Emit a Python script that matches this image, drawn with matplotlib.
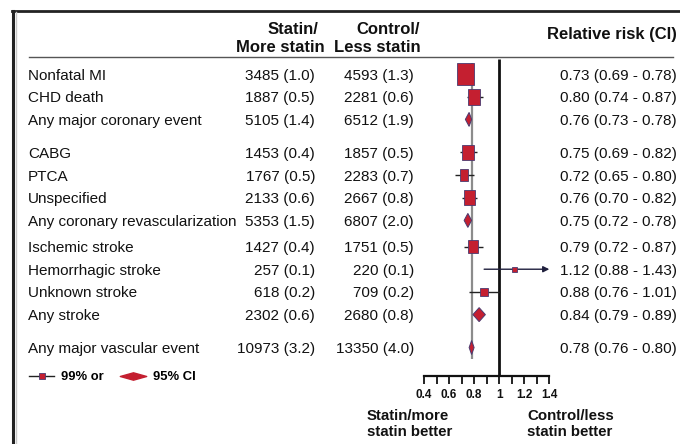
import matplotlib
matplotlib.use('Agg')
import matplotlib.pyplot as plt
import matplotlib.transforms as mtransforms
from matplotlib.patches import Rectangle, Polygon
from matplotlib.lines import Line2D
from matplotlib.path import Path

# data
labels = ['Nonfatal MI', 'CHD death', 'Any major coronary event',
          'CABG', 'PTCA', 'Unspecified', 'Any coronary revascularization',
          'Ischemic stroke', 'Hemorrhagic stroke', 'Unknown stroke', 'Any stroke',
          'Any major vascular event']
statin_n = [3485, 1887, 5105, 1453, 1767, 2133, 5353, 1427, 257, 618, 2302, 10973]
statin_pct = [1.0, 0.5, 1.4, 0.4, 0.5, 0.6, 1.5, 0.4, 0.1, 0.2, 0.6, 3.2]
control_n = [4593, 2281, 6512, 1857, 2283, 2667, 6807, 1751, 220, 709, 2680, 13350]
control_pct = [1.3, 0.6, 1.9, 0.5, 0.7, 0.8, 2.0, 0.5, 0.1, 0.2, 0.8, 4.0]
rr = [0.73, 0.80, 0.76, 0.75, 0.72, 0.76, 0.75, 0.79, 1.12, 0.88, 0.84, 0.78]
ci_lo = [0.69, 0.74, 0.73, 0.69, 0.65, 0.70, 0.72, 0.72, 0.88, 0.76, 0.79, 0.76]
ci_hi = [0.78, 0.87, 0.78, 0.82, 0.80, 0.82, 0.78, 0.87, 1.43, 1.01, 0.89, 0.80]
is_total = [False, False, True, False, False, False, True, False, False, False, True, True]
tick_vals = [0.4, 0.6, 0.8, 1.0, 1.2, 1.4]
tick_labels = ['0.4', '0.6', '0.8', '1', '1.2', '1.4']
minor_vals = [0.5, 0.7, 0.9, 1.1, 1.3]

# layout (row slots, box sizes in px)
row_slot = [0, 1, 2, 3.45, 4.45, 5.45, 6.45, 7.6, 8.6, 9.6, 10.6, 12.05]
box_w = [17, 12, 0, 11.3, 8.3, 11, 0, 9.3, 5, 7.3, 0, 0]
box_h = [22, 16, 0, 14.7, 12, 15, 0, 13, 5.3, 8.7, 0, 0]
diamond_h = 14

RED = '#c41f30'
EDGE = '#4a3a70'
INK = '#111111'

plt.rcParams['font.family'] = 'Liberation Sans'

W, H = 680, 444
fig = plt.figure(figsize=(W / 100, H / 100), dpi=100)

def fx(px):
    return px / W

def fy(py):
    return 1 - py / H

# forest axes - the bottom spine is the relative risk scale
row0, row_px = 74, 22.7
ax_top, ax_bot = 44, 376
x0_px, x1_px = 424, 549.3
ax = fig.add_axes([fx(x0_px), fy(ax_bot), fx(x1_px) - fx(x0_px), fy(ax_top) - fy(ax_bot)])
ax.set_facecolor('none')
ax.set_xlim(0.4, 1.4)
ax.set_ylim((ax_bot - row0) / row_px, (ax_top - row0) / row_px)
px_x = (x1_px - x0_px) / 1.0

for s in ['top', 'left', 'right']:
    ax.spines[s].set_visible(False)
ax.spines['bottom'].set_linewidth(1.6)
ax.spines['bottom'].set_color('#111')
ax.set_yticks([])
ax.set_xticks(tick_vals)
ax.set_xticklabels(tick_labels)
ax.set_xticks(minor_vals, minor=True)
ax.tick_params(which='both', direction='out', length=6, width=1.3, color='#111', pad=3, labelsize=8.5)
for t in ax.get_xticklabels():
    t.set_fontweight('bold')
    t.set_color(INK)

# reference lines
ax.vlines(1.0, -0.66, ax.get_ylim()[0], color='#111', lw=2, zorder=2)
ax.vlines(rr[-1], -0.5, 12.55, color='#8c8c8c', lw=1.6, zorder=1)

for i in range(len(labels)):
    y = row_slot[i]
    if is_total[i]:
        dh = diamond_h / row_px / 2
        ax.add_patch(Polygon([(ci_lo[i], y), (rr[i], y - dh), (ci_hi[i], y), (rr[i], y + dh)],
                             closed=True, facecolor=RED, edgecolor=EDGE, lw=0.7, zorder=3))
    else:
        if ci_hi[i] > 1.4:
            ax.annotate('', xy=(1.4, y), xytext=(ci_lo[i], y), annotation_clip=False,
                        arrowprops=dict(arrowstyle='-|>', color='#1f1f3d', lw=1,
                                        mutation_scale=9, shrinkA=0, shrinkB=0), zorder=2)
        else:
            ax.hlines(y, ci_lo[i], ci_hi[i], color='#222', lw=1, zorder=2)
        w = box_w[i] / px_x
        h = box_h[i] / row_px
        ax.add_patch(Rectangle((rr[i] - w / 2, y - h / 2), w, h,
                               facecolor=RED, edgecolor=EDGE, lw=0.6, zorder=3))

# table columns
trans = mtransforms.blended_transform_factory(fig.transFigure, ax.transData)
dy = 1.5 / row_px
cell = dict(transform=trans, va='center', fontsize=11, color=INK)
for i in range(len(labels)):
    y = row_slot[i] + dy
    ax.text(fx(28), y, labels[i], ha='left', **cell)
    ax.text(fx(315), y, f'{statin_n[i]} ({statin_pct[i]:.1f})', ha='right', **cell)
    ax.text(fx(414), y, f'{control_n[i]} ({control_pct[i]:.1f})', ha='right', **cell)
    ax.text(fx(677), y, f'{rr[i]:.2f} ({ci_lo[i]:.2f} - {ci_hi[i]:.2f})', ha='right', **cell)

# headers
hdr = dict(fontsize=12, fontweight='bold', color=INK, va='center')
fig.text(fx(318), fy(30), 'Statin/', ha='right', **hdr)
fig.text(fx(325), fy(47), 'More statin', ha='right', **hdr)
fig.text(fx(356), fy(30), 'Control/', ha='left', **hdr)
fig.text(fx(334), fy(47), 'Less statin', ha='left', **hdr)
fig.text(fx(677), fy(35), 'Relative risk (CI)', ha='right', **hdr)
fig.add_artist(Line2D([fx(29), fx(673)], [fy(57), fy(57)], color='#555', lw=1))

# bottom captions
fig.text(fx(367), fy(424), 'Statin/more\nstatin better', ha='left', va='center',
         fontsize=10.8, fontweight='bold', color=INK, linespacing=1.25)
fig.text(fx(527), fy(424), 'Control/less\nstatin better', ha='left', va='center',
         fontsize=10.8, fontweight='bold', color=INK, linespacing=1.25)

# legend
diamond = Path([(-1, 0), (0, 0.28), (1, 0), (0, -0.28), (-1, 0)],
               [Path.MOVETO, Path.LINETO, Path.LINETO, Path.LINETO, Path.CLOSEPOLY])
h_sq = Line2D([], [], color='#222', lw=1, marker='s', ms=5, mfc=RED, mec=EDGE, mew=0.6)
h_di = Line2D([], [], ls='none', marker=diamond, ms=19, mfc=RED, mec=RED)
fig.legend([h_sq, h_di], ['99% or', '95% CI'], loc='center left',
           bbox_to_anchor=(fx(29), fy(377)), ncol=2, frameon=False,
           prop={'weight': 'bold', 'size': 9.4}, handlelength=1.95,
           handletextpad=0.5, columnspacing=1.3, borderpad=0, borderaxespad=0)

# frame
fig.add_artist(Line2D([fx(12), fx(680)], [fy(11), fy(11)], color='#222', lw=2))
fig.add_artist(Line2D([fx(13), fx(13)], [fy(11), fy(444)], color='#222', lw=2.2))
fig.add_artist(Line2D([fx(15.5), fx(15.5)], [fy(12), fy(444)], color='#c8c8c8', lw=1))

fig.savefig('out.png', dpi=100)
